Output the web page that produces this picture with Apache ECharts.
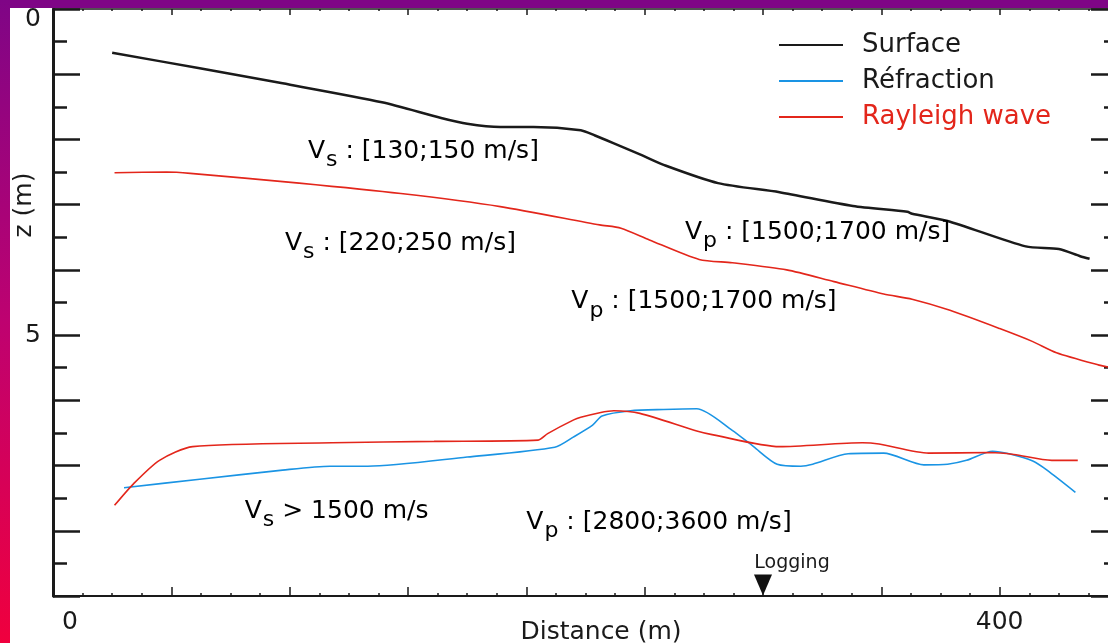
<!DOCTYPE html>
<html>
<head>
<meta charset="utf-8">
<script src="https://cdn.jsdelivr.net/npm/echarts@6/dist/echarts.min.js"></script>
<style>
html,body{margin:0;padding:0;background:#fff;}
#c{width:1108px;height:643px;}
</style>
</head>
<body>
<div id="c"></div>
<script>
// ---- data (distance in m, depth z in m) ----
const surfaceX = [25, 62, 97, 139, 164, 175, 189, 203, 223, 229, 237, 248, 258, 281, 307, 338, 361, 363, 378, 411, 425, 434, 438];
const surfaceZ = [0.67, 0.91, 1.14, 1.43, 1.67, 1.76, 1.81, 1.81, 1.86, 1.94, 2.06, 2.23, 2.39, 2.67, 2.81, 3.02, 3.11, 3.14, 3.25, 3.64, 3.68, 3.79, 3.83];

const refrX = [30, 62, 97, 117, 133, 175, 212, 220, 228, 232, 244, 258, 272, 287, 296, 306, 316, 321, 336, 351, 368, 378, 386, 397, 404, 414, 420, 432];
const refrZ = [7.34, 7.21, 7.07, 7.01, 7.01, 6.87, 6.72, 6.56, 6.38, 6.24, 6.16, 6.14, 6.13, 6.46, 6.71, 6.98, 7.01, 6.98, 6.82, 6.81, 6.99, 6.98, 6.92, 6.78, 6.82, 6.93, 7.07, 7.41];

const rayUpX = [26, 48, 58, 104, 147, 189, 231, 240, 252, 273, 287, 310, 330, 351, 363, 379, 400, 414, 424, 442, 446];
const rayUpZ = [2.51, 2.50, 2.52, 2.67, 2.83, 3.03, 3.31, 3.36, 3.54, 3.84, 3.89, 4.00, 4.18, 4.37, 4.45, 4.62, 4.90, 5.10, 5.27, 5.46, 5.49];

const rayLowX = [26, 34, 45, 59, 118, 161, 205, 209, 220, 223, 231, 237, 248, 272, 279, 307, 342, 349, 370, 396, 406, 422, 433];
const rayLowZ = [7.61, 7.28, 6.92, 6.71, 6.65, 6.63, 6.61, 6.51, 6.30, 6.26, 6.19, 6.16, 6.20, 6.47, 6.53, 6.71, 6.65, 6.67, 6.81, 6.80, 6.83, 6.92, 6.92];

const loggingX = [300];
const xTickLabels = [0, 400];
const yTickLabels = [0, 5];
const seriesNames = ['Surface', 'Réfraction', 'Rayleigh wave'];

// annotation texts: [sub letter, rest, colour key]
const annoTexts = [
  ['s', ' : [130;150 m/s]', 'red'],
  ['s', ' : [220;250 m/s]', 'red'],
  ['p', ' : [1500;1700 m/s]', 'black'],
  ['p', ' : [1500;1700 m/s]', 'black'],
  ['s', ' > 1500 m/s', 'red'],
  ['p', ' : [2800;3600 m/s]', 'black']
];
// annotation anchors (left edge / vertical middle), in data units
const annoAnchors = [[107.7, 2.18], [98, 3.59], [267, 3.42], [219, 4.49], [81, 7.70], [200, 7.87]];

// ---- styles ----
const FONT = 'DejaVu Sans';
const BLACK = '#1a1a1a', BLUE = '#1a94e4', RED = '#e3261b';
const zip = (a, b) => a.map((v, i) => [v, b[i]]);

const chart = echarts.init(document.getElementById('c'), null, {renderer: 'canvas'});

const axisCommonX = {
  type: 'value', min: 0, max: 450, interval: 50,
  splitLine: {show: false},
  minorSplitLine: {show: false}
};
const axisCommonY = {
  type: 'value', min: 0, max: 9, interval: 1, inverse: true,
  splitLine: {show: false},
  minorSplitLine: {show: false},
  axisLine: {show: true, onZero: false, lineStyle: {color: BLACK, width: 3}},
  axisTick: {show: true, inside: true, length: 27, lineStyle: {color: BLACK, width: 2.5}},
  minorTick: {show: true, splitNumber: 2, length: 14, lineStyle: {color: BLACK, width: 2.5}}
};

const option = {
  animation: false,
  backgroundColor: '#ffffff',
  grid: {left: 53, top: 9, width: 1065, height: 587, containLabel: false, outerBoundsMode: 'none'},
  xAxis: [
    Object.assign({}, axisCommonX, {
      position: 'bottom',
      name: 'Distance (m)', nameLocation: 'middle', nameGap: 24, nameMoveOverlap: false,
      nameTextStyle: {fontFamily: FONT, fontSize: 25, color: BLACK, padding: [0, 0, 0, 31]},
      axisLine: {show: true, onZero: false, lineStyle: {color: BLACK, width: 2}},
      axisTick: {show: true, inside: true, length: 9, lineStyle: {color: BLACK, width: 1.5}},
      minorTick: {show: true, splitNumber: 4, length: 3, lineStyle: {color: BLACK, width: 1.5}},
      axisLabel: {
        show: true, margin: 14, fontFamily: FONT, fontSize: 25, color: BLACK,
        showMinLabel: true, showMaxLabel: true,
        formatter: v => v === xTickLabels[0] ? '{z|' + v + '}' : (xTickLabels.indexOf(v) >= 0 ? String(v) : ''),
        rich: {z: {fontFamily: FONT, fontSize: 25, color: BLACK, padding: [0, 0, 0, 34]}}
      }
    }),
    Object.assign({}, axisCommonX, {
      position: 'top',
      axisLine: {show: true, onZero: false, lineStyle: {color: BLACK, width: 1.5}},
      axisTick: {show: true, inside: true, length: 6, lineStyle: {color: BLACK, width: 1.5}},
      minorTick: {show: true, splitNumber: 4, length: 2, lineStyle: {color: BLACK, width: 1.5}},
      axisLabel: {show: false}
    })
  ],
  yAxis: [
    Object.assign({}, axisCommonY, {
      position: 'left',
      axisLabel: {
        show: true, margin: 12, fontFamily: FONT, fontSize: 25, color: BLACK,
        showMinLabel: true,
        formatter: v => v === yTickLabels[0] ? '{t|' + v + '}' : (yTickLabels.indexOf(v) >= 0 ? String(v) : ''),
        rich: {t: {fontFamily: FONT, fontSize: 25, color: BLACK, padding: [20, 0, 0, 0]}}
      }
    }),
    Object.assign({}, axisCommonY, {position: 'right', axisLabel: {show: false}})
  ],
  legend: {
    show: true, orient: 'vertical', left: 778, top: 30, padding: 0,
    itemWidth: 64, itemHeight: 14, itemGap: 6, align: 'left',
    itemStyle: {color: 'transparent', borderColor: 'transparent', borderWidth: 0, opacity: 0},
    textStyle: {fontFamily: FONT, fontSize: 26, color: BLACK, lineHeight: 30, padding: [0, 0, 0, 14]},
    data: [seriesNames[0], seriesNames[1], {name: seriesNames[2], textStyle: {color: RED}}]
  },
  series: [
    {name: seriesNames[0], type: 'line', data: zip(surfaceX, surfaceZ), symbol: 'none', smooth: 0.25,
     lineStyle: {color: BLACK, width: 2.5}, itemStyle: {color: BLACK}, z: 3},
    {name: seriesNames[1], type: 'line', data: zip(refrX, refrZ), symbol: 'none', smooth: 0.25,
     lineStyle: {color: BLUE, width: 1.6}, itemStyle: {color: BLUE}, z: 2},
    {name: seriesNames[2], type: 'line', data: zip(rayUpX, rayUpZ), symbol: 'none', smooth: 0.25,
     lineStyle: {color: RED, width: 1.6}, itemStyle: {color: RED}, z: 2},
    {name: seriesNames[2], type: 'line', data: zip(rayLowX, rayLowZ), symbol: 'none', smooth: 0.25,
     lineStyle: {color: RED, width: 1.6}, itemStyle: {color: RED}, z: 2},
    {name: 'Logging', type: 'scatter', data: loggingX.map(x => [x, 9]),
     symbol: 'triangle', symbolRotate: 180, symbolSize: [18, 21], symbolOffset: [0, -11],
     itemStyle: {color: '#111111', opacity: 1}, z: 5, clip: false,
     label: {show: true, formatter: 'Logging', position: 'top', offset: [29, 0], distance: 2,
             fontFamily: FONT, fontSize: 19, color: BLACK, opacity: 1}}
  ]
};
chart.setOption(option);

// annotations and frame bands
const graphics = [];
annoTexts.forEach((t, i) => {
  const p = chart.convertToPixel({gridIndex: 0}, annoAnchors[i]);
  const col = t[2] === 'red' ? RED : BLACK;
  graphics.push({
    type: 'text', x: p[0], y: p[1], z: 10,
    style: {
      text: '{m|V}{s|' + t[0] + '}{m|' + t[1] + '}',
      align: 'left', verticalAlign: 'middle',
      rich: {
        m: {fontFamily: FONT, fontSize: 25, color: col, lineHeight: 40, verticalAlign: 'middle'},
        s: {fontFamily: FONT, fontSize: 22, color: col, lineHeight: 22, verticalAlign: 'bottom', padding: [0, 0, 0, 1]}
      }
    }
  });
});
graphics.push({
  type: 'text', x: 24, y: 205, rotation: Math.PI / 2, z: 10,
  style: {text: 'z (m)', fontFamily: FONT, fontSize: 25, fill: BLACK, align: 'center', verticalAlign: 'middle'}
});
graphics.push({
  type: 'rect', z: 100, shape: {x: 0, y: 0, width: 1108, height: 8},
  style: {fill: '#7f0586'}
});
graphics.push({
  type: 'rect', z: 100, shape: {x: 0, y: 0, width: 10, height: 643},
  style: {fill: new echarts.graphic.LinearGradient(0, 0, 0, 1, [
    {offset: 0, color: '#7f0586'}, {offset: 0.5, color: '#be0270'}, {offset: 1, color: '#f0003e'}
  ])}
});
chart.setOption({graphic: graphics});
</script>
</body>
</html>
